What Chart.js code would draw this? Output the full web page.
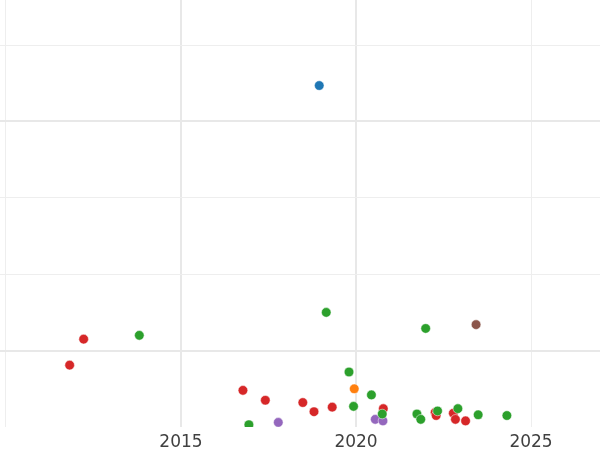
<!DOCTYPE html>
<html>
<head>
<meta charset="utf-8">
<script src="https://cdn.jsdelivr.net/npm/chart.js@4.4.1/dist/chart.umd.min.js"></script>
<style>
  html, body { margin: 0; padding: 0; background: #fff; }
  #wrap { width: 600px; height: 450px; }
</style>
</head>
<body>
<div id="wrap"><canvas id="chart" width="600" height="450"></canvas></div>
<script>
'use strict';

// ── data (year, value) per colour group ──
const blueYears   = [2018.95];
const blueValues  = [4.47];

const orangeYears  = [2019.95];
const orangeValues = [0.50];

const greenYears  = [2013.81, 2016.94, 2019.15, 2019.80, 2019.93, 2020.44, 2020.75, 2021.74, 2021.85, 2021.99, 2022.33, 2022.91, 2023.49, 2024.31];
const greenValues = [1.20,    0.03,    1.50,    0.72,    0.27,    0.42,    0.17,    0.17,    0.10,    1.29,    0.21,    0.24,    0.16,    0.15];

const redYears  = [2011.82, 2012.22, 2016.77, 2017.41, 2018.48, 2018.80, 2019.32, 2020.78, 2022.26, 2022.29, 2022.78, 2022.84, 2023.13];
const redValues = [0.81,    1.15,    0.48,    0.35,    0.32,    0.20,    0.26,    0.24,    0.19,    0.15,    0.18,    0.10,    0.08];

const purpleYears  = [2017.78, 2020.55, 2020.77];
const purpleValues = [0.06,    0.10,    0.08];

const brownYears  = [2023.43];
const brownValues = [1.34];

const xTicks = [2010, 2015, 2020, 2025];
const yTicks = [0, 1, 2, 3, 4, 5];

// ─────────────────────────────────────────────
const toPoints = (xs, ys) => xs.map((x, i) => ({ x, y: ys[i] }));

const series = (data, color) => ({
  data,
  backgroundColor: color,
  borderColor: '#ffffff',
  borderWidth: 0.5,
  pointRadius: 4.8,
  pointHoverRadius: 4.8,
  clip: 0,
});

const isMajorX = (c) => c.tick && (c.tick.value === 2015 || c.tick.value === 2020);
const isMajorY = (c) => c.tick && (c.tick.value === 1 || c.tick.value === 4);

new Chart(document.getElementById('chart'), {
  type: 'scatter',
  data: {
    datasets: [
      series(toPoints(blueYears, blueValues), '#1f77b4'),
      series(toPoints(orangeYears, orangeValues), '#ff7f0e'),
      series(toPoints(greenYears, greenValues), '#2ca02c'),
      series(toPoints(redYears, redValues), '#d62728'),
      series(toPoints(purpleYears, purpleValues), '#9467bd'),
      series(toPoints(brownYears, brownValues), '#8c564b'),
    ],
  },
  options: {
    responsive: false,
    animation: false,
    layout: { padding: 0, autoPadding: false },
    plugins: { legend: { display: false }, tooltip: { enabled: false } },
    scales: {
      x: {
        type: 'linear',
        min: 2009.83,
        max: 2026.97,
        afterBuildTicks: (s) => { s.ticks = xTicks.map((v) => ({ value: v })); },
        afterFit: (s) => { s.height = 23; },
        border: { display: false },
        grid: {
          drawTicks: false,
          color: (c) => isMajorX(c) ? '#e8e8e8' : '#eeeeee',
          lineWidth: (c) => isMajorX(c) ? 2 : 1,
        },
        ticks: {
          padding: 5,
          color: '#404040',
          font: { family: 'DejaVu Sans', size: 17 },
          callback: (v) => (v === 2010 ? '' : String(v)),
        },
      },
      y: {
        type: 'linear',
        min: 0,
        max: 5.59,
        afterBuildTicks: (s) => { s.ticks = yTicks.map((v) => ({ value: v })); },
        afterFit: (s) => { s.width = 0; },
        border: { display: false },
        grid: {
          drawTicks: false,
          color: (c) => isMajorY(c) ? '#e8e8e8' : '#eeeeee',
          lineWidth: (c) => {
            if (!c.tick || c.tick.value === 0) return 0;
            return isMajorY(c) ? 2 : 1;
          },
        },
        ticks: { display: false },
      },
    },
  },
});
</script>
</body>
</html>
